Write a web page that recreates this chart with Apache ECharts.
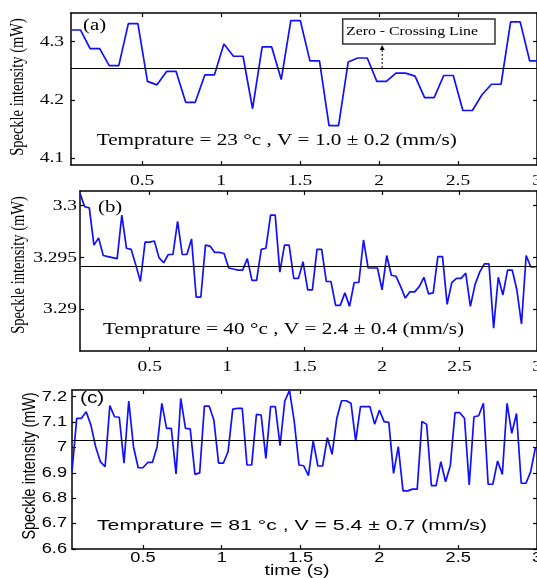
<!DOCTYPE html>
<html><head><meta charset="utf-8">
<script src="https://cdn.jsdelivr.net/npm/echarts@6/dist/echarts.min.js"></script>
<style>html,body{margin:0;padding:0;background:#fff}#c{width:537px;height:578px}</style>
</head><body><div id="c"></div>
<script>
// ---------- data ----------
const timeStartS = 0.05;        // first sample time (s)
const sampleStepA = 0.0605;     // sampling step, panel (a)
const sampleStepBC = 0.03;      // sampling step, panels (b) and (c)

const speckleA = [4.32,4.32,4.288,4.288,4.259,4.259,4.331,4.331,4.232,4.226,
  4.249,4.249,4.196,4.196,4.243,4.243,4.296,4.275,4.275,4.185,
  4.291,4.291,4.235,4.336,4.336,4.267,4.267,4.156,4.156,4.265,
  4.272,4.272,4.232,4.232,4.246,4.246,4.241,4.204,4.204,4.242,
  4.242,4.182,4.182,4.209,4.227,4.227,4.334,4.334,4.267,4.267];

const speckleB = [3.3012,3.2999,3.2998,3.2962,3.2969,3.2952,3.2951,3.2950,3.2949,3.2991,
  3.2959,3.2958,3.2943,3.2927,3.2965,3.2965,3.2966,3.2950,3.2945,3.2953,
  3.2953,3.2985,3.2953,3.2953,3.2968,3.2912,3.2912,3.2962,3.2961,3.2955,
  3.2955,3.2954,3.2940,3.2939,3.2938,3.2938,3.2949,3.2928,3.2928,3.2958,
  3.2959,3.2991,3.2991,3.2936,3.2962,3.2962,3.2930,3.2930,3.2946,3.2919,
  3.2919,3.2958,3.2958,3.2927,3.2927,3.2904,3.2904,3.2916,3.2903,3.2926,
  3.2926,3.2967,3.2940,3.2940,3.2940,3.2919,3.2952,3.2933,3.2932,3.2922,
  3.2911,3.2917,3.2917,3.2922,3.2931,3.2915,3.2916,3.2951,3.2951,3.2905,
  3.2926,3.2930,3.2930,3.2935,3.2903,3.2924,3.2936,3.2944,3.2944,3.2882,
  3.2931,3.2914,3.2938,3.2938,3.2919,3.2886,3.2952,3.2941,3.2941];

const speckleC = [6.905,7.115,7.115,7.141,7.088,7.003,6.944,6.924,7.165,7.121,
  7.119,6.938,7.183,7.003,6.920,6.920,6.941,6.941,7.003,7.174,
  7.075,7.075,6.896,7.193,7.075,7.073,6.894,6.900,7.163,7.163,
  7.108,6.938,6.938,6.983,7.151,7.154,7.154,6.931,6.931,7.130,
  7.128,6.957,7.161,7.161,7.007,7.183,7.225,7.102,6.931,6.928,
  6.889,7.025,6.927,6.927,7.039,6.973,7.115,7.184,7.184,7.174,
  7.025,7.161,7.161,7.161,7.092,7.147,7.102,7.099,6.898,7.003,
  6.829,6.829,6.836,6.836,7.102,7.091,6.850,6.850,6.944,6.865,
  6.928,7.137,7.137,7.115,6.852,7.121,7.125,7.174,6.855,6.855,
  6.947,6.894,7.174,7.056,7.134,6.859,6.859,6.905,7.000];

const zeroLevels = [4.255, 3.2942, 7.029];
const xTicks = [0.5, 1, 1.5, 2, 2.5, 3];
const xTickLabels = ['0.5', '1', '1.5', '2', '2.5', '3'];
const yTicksA = [4.1, 4.2, 4.3];
const yTickLabelsA = ['4.1', '4.2', '4.3'];
const yTicksB = [3.29, 3.295, 3.3];
const yTickLabelsB = ['3.29', '3.295', '3.3'];
const yTicksC = [6.6, 6.7, 6.8, 6.9, 7, 7.1, 7.2];
const yTickLabelsC = ['6.6', '6.7', '6.8', '6.9', '7', '7.1', '7.2'];
const panelTags = ['(a)', '(b)', '(c)'];
const captions = ['Temprature = 23 °c , V = 1.0 ± 0.2 (mm/s)',
                  'Temprature = 40 °c , V = 2.4 ± 0.4 (mm/s)',
                  'Temprature = 81 °c , V = 5.4 ± 0.7 (mm/s)'];
const yAxisTitle = 'Speckle intensity (mW)';
const xAxisTitle = 'time (s)';
const annotationText = 'Zero - Crossing Line';
const annotationTime = 2.02;

// ---------- layout / style ----------
const SERIF = '"Liberation Serif", "Times New Roman", Times, serif';
const SANS = 'Arial, "Liberation Sans", Helvetica, "DejaVu Sans", sans-serif';
const SX = 1.3; // horizontal stretch of the original figure text
const BLUE = '#1010ff';
const grids = [
  {left: 71, right: 0, top: 13, height: 152},
  {left: 80, right: -5, top: 191, height: 160},
  {left: 72, right: -2, top: 390, height: 159}
];
const yRanges = [[4.0885, 4.3492], [3.286, 3.30142], [6.6, 7.2264]];
const yTickSets = [yTicksA, yTicksB, yTicksC];
const yLabelSets = [yTickLabelsA, yTickLabelsB, yTickLabelsC];
const panelFonts = [SERIF, SERIF, SANS];

const chart = echarts.init(document.getElementById('c'), null, {renderer: 'canvas'});

const xAxes = [], yAxes = [], series = [];
const lineStyleAxis = {color: '#000', width: 1.5};
for (let g = 0; g < 3; g++) {
  for (const pos of ['bottom', 'top']) {
    xAxes.push({type: 'value', gridIndex: g, position: pos, min: 0.05, max: 3,
      axisLine: {show: true, onZero: false, lineStyle: lineStyleAxis},
      axisTick: {show: true, inside: true, length: 4, customValues: xTicks, lineStyle: {color: '#000', width: 1.2}},
      axisLabel: {show: false}, splitLine: {show: false}});
  }
  for (const pos of ['left', 'right']) {
    yAxes.push({type: 'value', gridIndex: g, position: pos, min: yRanges[g][0], max: yRanges[g][1],
      axisLine: {show: true, onZero: false, lineStyle: lineStyleAxis},
      axisTick: {show: true, inside: true, length: 4, customValues: yTickSets[g], lineStyle: {color: '#000', width: 1.2}},
      axisLabel: {show: false}, splitLine: {show: false}});
  }
}
const values = [speckleA, speckleB, speckleC];
const steps = [sampleStepA, sampleStepBC, sampleStepBC];
for (let g = 0; g < 3; g++) {
  series.push({
    type: 'line', xAxisIndex: g * 2, yAxisIndex: g * 2, showSymbol: false, symbol: 'none',
    lineStyle: {color: BLUE, width: 1.7}, clip: true,
    data: values[g].map((v, i) => [timeStartS + i * steps[g], v]),
    markLine: {silent: true, symbol: 'none', precision: 6, label: {show: false},
      lineStyle: {color: '#000', width: 1, type: 'solid'}, data: [{yAxis: zeroLevels[g]}]}
  });
}

chart.setOption({
  animation: false, backgroundColor: '#fff',
  grid: grids, xAxis: xAxes, yAxis: yAxes, series: series
});

// ---------- texts ----------
const mctx = document.createElement('canvas').getContext('2d');
function measure(str, size, family) { mctx.font = size + 'px ' + family; return mctx.measureText(str).width; }
function sty(str, size, family, align) {
  return {text: str, fontSize: size, fontFamily: family, fill: '#000',
          align: align || 'center', verticalAlign: 'middle'};
}
function text(str, x, y, size, family, align) {
  return {type: 'text', x: x, y: y, scaleX: SX, z: 100, style: sty(str, size, family, align)};
}
function fitted(str, left, width, cy, size, family) {
  const s = width / measure(str, size, family);
  return {type: 'text', x: left, y: cy, scaleX: s, z: 100, style: sty(str, size, family, 'left')};
}
const gfx = [];
const xLabelY = [181.5, 367.5, 558.5];
const yLabelRight = [64, 77, 67];
const tickFontSize = [15, 15, 14];
for (let g = 0; g < 3; g++) {
  xTicks.forEach((v, i) => {
    const px = chart.convertToPixel({xAxisIndex: g * 2}, v);
    gfx.push(text(xTickLabels[i], px, xLabelY[g], tickFontSize[g], panelFonts[g], 'center'));
  });
  yTickSets[g].forEach((v, i) => {
    const py = chart.convertToPixel({yAxisIndex: g * 2}, v);
    gfx.push(text(yLabelSets[g][i], yLabelRight[g], py, tickFontSize[g], panelFonts[g], 'right'));
  });
}
// panel tags
gfx.push(text(panelTags[0], 83, 25.5, 16, SERIF, 'left'));
gfx.push(text(panelTags[1], 98, 208, 16, SERIF, 'left'));
gfx.push(text(panelTags[2], 80, 399, 16, SANS, 'left'));
// captions
gfx.push(fitted(captions[0], 96.7, 360, 141, 16, SERIF));
gfx.push(fitted(captions[1], 103, 361, 330, 16, SERIF));
gfx.push(fitted(captions[2], 97, 390, 526, 15, SANS));
// y axis titles (rotated)
const yt = [[18, 87, 14.5, SERIF], [19, 265, 14.5, SERIF], [30, 466, 14.4, SANS]];
yt.forEach(([x, y, s, fam]) => gfx.push({type: 'text', x: x, y: y, rotation: Math.PI / 2, scaleY: SX, z: 100,
  style: sty(yAxisTitle, s, fam, 'center')}));
// x axis title
gfx.push(text(xAxisTitle, 297, 571, 15, SANS, 'center'));
// annotation box + arrow
gfx.push({type: 'rect', z: 90, shape: {x: 342.7, y: 19, width: 152.3, height: 25},
  style: {fill: '#fff', stroke: '#333', lineWidth: 1.5}});
gfx.push(fitted(annotationText, 346, 132, 32, 12, SERIF));
const ax = chart.convertToPixel({xAxisIndex: 0}, annotationTime);
const ay = chart.convertToPixel({yAxisIndex: 0}, zeroLevels[0]);
gfx.push({type: 'line', z: 95, shape: {x1: ax, y1: ay, x2: ax, y2: 49},
  style: {stroke: '#000', lineWidth: 1, lineDash: [2, 2]}});
gfx.push({type: 'polygon', z: 95, shape: {points: [[ax - 2.5, 50], [ax + 2.5, 50], [ax, 45]]},
  style: {fill: '#000'}});

chart.setOption({graphic: gfx});
</script></body></html>
